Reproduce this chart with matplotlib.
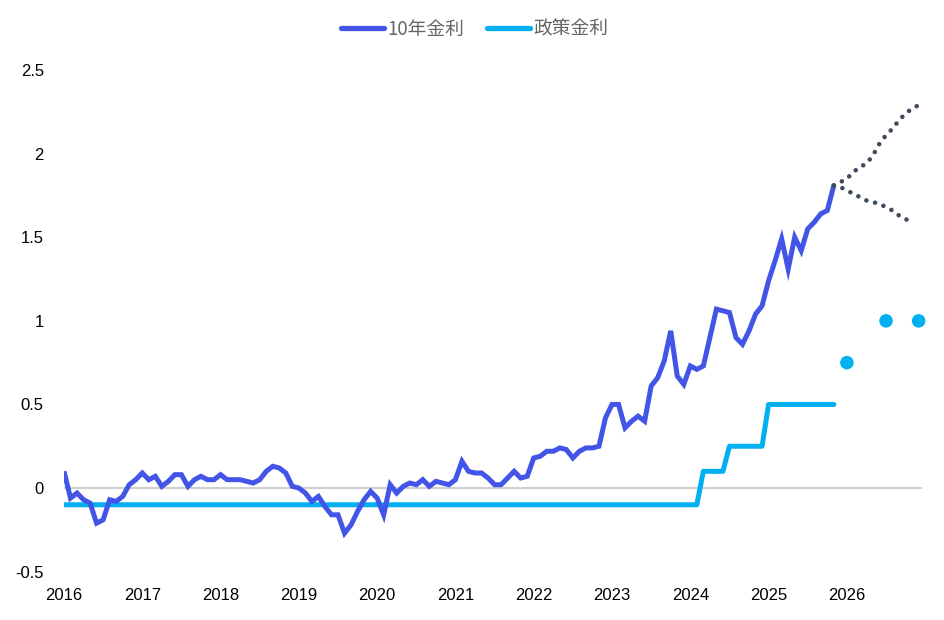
import numpy as np
import matplotlib.pyplot as plt

plt.rcParams['font.family'] = ['Liberation Sans', 'Noto Sans CJK JP', 'DejaVu Sans']

# Monthly 10y yield, Jan 2016 - Nov 2025
yield_10y = [
    0.10, -0.06, -0.03, -0.07, -0.09, -0.21, -0.19, -0.07, -0.08, -0.05, 0.02, 0.05,
    0.09, 0.05, 0.07, 0.01, 0.04, 0.08, 0.08, 0.01, 0.05, 0.07, 0.05, 0.05,
    0.08, 0.05, 0.05, 0.05, 0.04, 0.03, 0.05, 0.10, 0.13, 0.12, 0.09, 0.01,
    0.00, -0.03, -0.08, -0.05, -0.11, -0.16, -0.16, -0.27, -0.22, -0.14, -0.07, -0.02,
    -0.06, -0.16, 0.02, -0.03, 0.01, 0.03, 0.02, 0.05, 0.01, 0.04, 0.03, 0.02,
    0.05, 0.16, 0.10, 0.09, 0.09, 0.06, 0.02, 0.02, 0.06, 0.10, 0.06, 0.07,
    0.18, 0.19, 0.22, 0.22, 0.24, 0.23, 0.18, 0.22, 0.24, 0.24, 0.25, 0.42,
    0.50, 0.50, 0.36, 0.40, 0.43, 0.40, 0.61, 0.66, 0.76, 0.94, 0.67, 0.62,
    0.73, 0.71, 0.73, 0.90, 1.07, 1.06, 1.05, 0.90, 0.86, 0.94, 1.04, 1.09,
    1.24, 1.36, 1.49, 1.31, 1.50, 1.42, 1.55, 1.59, 1.64, 1.66, 1.81,
]

# Monthly policy rate, Jan 2016 - Nov 2025
policy_rate = [-0.1] * 98 + [0.1] * 4 + [0.25] * 6 + [0.5] * 11

# Scenario paths from Nov 2025
upper_path = [1.81, 1.83, 1.85, 1.89, 1.92, 1.94, 1.99, 2.06, 2.11, 2.15, 2.20, 2.24, 2.27, 2.29]
lower_path = [1.81, 1.80, 1.78, 1.76, 1.74, 1.72, 1.71, 1.70, 1.68, 1.66, 1.63, 1.61, 1.58]

# Policy rate outlook points (months after Jan 2026) and values
outlook_month = [0, 6, 11]
outlook_rate = [0.75, 1.0, 1.0]

years = list(range(2016, 2027))
y_ticks = [-0.5, 0, 0.5, 1, 1.5, 2, 2.5]
y_labels = ['-0.5', '0', '0.5', '1', '1.5', '2', '2.5']

x_hist = 2016 + np.arange(len(yield_10y)) / 12
x_pol = 2016 + np.arange(len(policy_rate)) / 12
start = x_hist[-1]
x_up = start + np.arange(len(upper_path)) / 12
x_lo = start + np.arange(len(lower_path)) / 12
x_out = 2026 + np.array(outlook_month) / 12

fig = plt.figure(figsize=(9.45, 6.2), dpi=100)
ax = fig.add_axes([0.0677, 0.078, 0.908, 0.809])

ax.axhline(0, color='#d0d0d0', lw=1.5, zorder=1)

ax.plot(x_hist, yield_10y, color='#4355e6', lw=3.6, solid_joinstyle='miter',
        solid_capstyle='butt', label='10年金利', zorder=3)
ax.plot(x_pol, policy_rate, color='#00b0f0', lw=3.6, solid_capstyle='round',
        label='政策金利', zorder=2)

for path, xs in [(upper_path, x_up), (lower_path, x_lo)]:
    ax.plot(xs, path, color='#3e4a5e', lw=3.3, linestyle=(0, (0.01, 1.95)),
            dash_capstyle='round', zorder=4)

ax.scatter(x_out, outlook_rate, s=95, color='#00b0f0', edgecolor='none', zorder=3,
           clip_on=False)

ax.set_xlim(2016, 2026.96)
ax.set_ylim(-0.5, 2.5)
ax.set_xticks(years)
ax.set_xticklabels([str(y) for y in years], fontsize=12)
ax.set_yticks(y_ticks)
ax.set_yticklabels(y_labels, fontsize=12)
ax.tick_params(axis='both', length=0)
ax.tick_params(axis='y', pad=14.5)
ax.tick_params(axis='x', pad=12)
for s in ax.spines.values():
    s.set_visible(False)

leg = fig.legend(loc='center', bbox_to_anchor=(0.502, 0.953), ncol=2, frameon=False,
                 handlelength=2.3, handletextpad=0.18, columnspacing=1.2,
                 prop={'family': ['Noto Sans CJK JP', 'DejaVu Sans'], 'size': 13.5})
for t in leg.get_texts():
    t.set_color('#666666')
for h in leg.get_lines():
    h.set_linewidth(3.8)
    h.set_solid_capstyle('round')

fig.savefig('out.png', dpi=100)
